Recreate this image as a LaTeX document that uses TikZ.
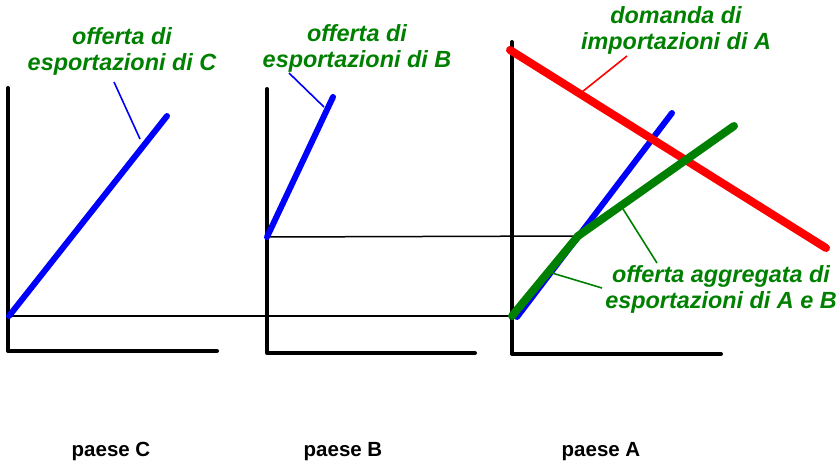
\documentclass[tikz,border=0pt]{standalone}
\usepackage{fontspec}
\setmainfont{Liberation Sans}
\definecolor{lblgreen}{RGB}{0,128,0}
\definecolor{curvegreen}{RGB}{0,128,0}
\definecolor{curveblue}{RGB}{0,0,255}
\definecolor{curvered}{RGB}{255,0,0}
\begin{document}
\begin{tikzpicture}[x=1pt,y=-1pt,
  axisline/.style={line width=4pt,black,line cap=round,line join=round},
  guide/.style={line width=1.5pt,black},
  bluecurve/.style={line width=6pt,curveblue,line cap=round},
  redcurve/.style={line width=8pt,curvered,line cap=round},
  greencurve/.style={line width=8pt,curvegreen,line cap=round,line join=round},
  leader/.style={line width=1.6pt},
  lbl/.style={font=\fontsize{23.4}{26}\selectfont\bfseries\itshape,text=lblgreen,align=center,inner sep=0pt},
  paese/.style={font=\fontsize{20.5}{23}\selectfont\bfseries,text=black,inner sep=0pt,anchor=base}]
\useasboundingbox (0,0) rectangle (840,465);
% coordinates
\coordinate (Ctop) at (8,88);
\coordinate (Corig) at (8,351);
\coordinate (Cright) at (217,351);
\coordinate (Btop) at (267,89);
\coordinate (Borig) at (267,353);
\coordinate (Bright) at (475,353);
\coordinate (Atop) at (512,42);
\coordinate (Aorig) at (512,354);
\coordinate (Aright) at (721,354);
\coordinate (Cs0) at (9,316);
\coordinate (Cs1) at (167,116);
\coordinate (Bs0) at (267,237);
\coordinate (Bs1) at (333,97);
\coordinate (As0) at (517,317);
\coordinate (As1) at (672,113);
\coordinate (Ag0) at (512,316);
\coordinate (Agk) at (578,236);
\coordinate (Ag1) at (734,126);
\coordinate (Ad0) at (510,50);
\coordinate (Ad1) at (826,248);
\coordinate (AyL) at (512,316);
\coordinate (AyB) at (578,236);
% axes
\draw[axisline] (Ctop) -- (Corig) -- (Cright);
\draw[axisline] (Btop) -- (Borig) -- (Bright);
\draw[axisline] (Atop) -- (Aorig) -- (Aright);
% guides
\draw[guide] (Cs0) -- (AyL);
\draw[guide] (Bs0) -- (AyB);
% curves
\draw[bluecurve] (Cs0) -- (Cs1);
\draw[bluecurve] (Bs0) -- (Bs1);
\draw[bluecurve] (As0) -- (As1);
\draw[redcurve] (Ad0) -- (Ad1);
\draw[greencurve] (Ag0) -- (Agk) -- (Ag1);
% labels
\node[lbl] (labC) at (122,51) {offerta di\\esportazioni di C};
\node[lbl] (labB) at (357,48) {offerta di\\esportazioni di B};
\node[lbl] (labD) at (676,30) {domanda di\\importazioni di A};
\node[lbl] (labG) at (721,289) {offerta aggregata di\\esportazioni di A e B};
% leaders
\coordinate (lc0) at (114,82); \coordinate (lc1) at (140,139);
\coordinate (lb0) at (289,73); \coordinate (lb1) at (324,107);
\coordinate (ld0) at (627,56); \coordinate (ld1) at (582,92);
\coordinate (lg0) at (657,263); \coordinate (lg1) at (623,209);
\coordinate (lh0) at (602,288); \coordinate (lh1) at (552,273);
\draw[leader,curveblue] (lc0) -- (lc1);
\draw[leader,curveblue] (lb0) -- (lb1);
\draw[leader,curvered] (ld0) -- (ld1);
\draw[leader,curvegreen] (lg0) -- (lg1);
\draw[leader,curvegreen] (lh0) -- (lh1);
% country labels
\node[paese] (pC) at (111,456) {paese C};
\node[paese] (pB) at (343,456) {paese B};
\node[paese] (pA) at (601,456) {paese A};
\end{tikzpicture}
\end{document}
